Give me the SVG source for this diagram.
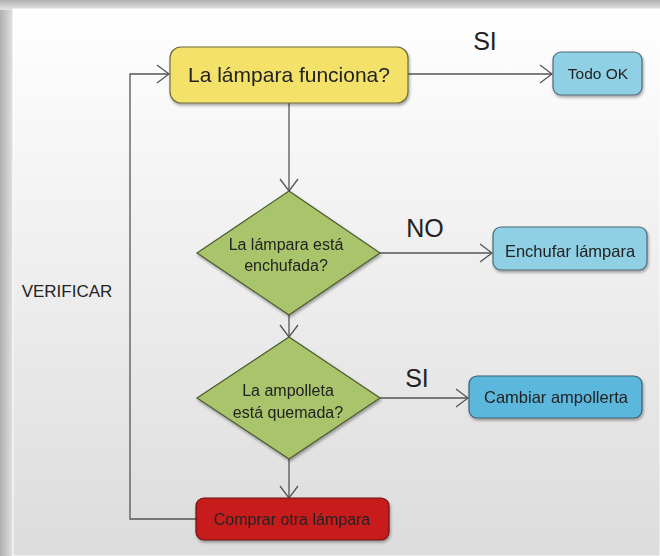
<svg xmlns="http://www.w3.org/2000/svg" width="660" height="556" viewBox="0 0 660 556">
  <defs>
    <linearGradient id="panelFill" x1="0" y1="0" x2="0" y2="1">
      <stop offset="0" stop-color="#ffffff"/>
      <stop offset="1" stop-color="#dcdcdc"/>
    </linearGradient>
    <linearGradient id="shadeLeft" x1="0" y1="0" x2="1" y2="0">
      <stop offset="0" stop-color="#b0b0b0"/>
      <stop offset="1" stop-color="#e6e6e6"/>
    </linearGradient>
    <linearGradient id="shadeTop" x1="0" y1="0" x2="0" y2="1">
      <stop offset="0" stop-color="#b0b0b0"/>
      <stop offset="1" stop-color="#e6e6e6"/>
    </linearGradient>
    <filter id="drop" x="-10%" y="-10%" width="130%" height="140%">
      <feGaussianBlur in="SourceAlpha" stdDeviation="1.5"/>
      <feOffset dx="1" dy="2" result="b"/>
      <feComponentTransfer><feFuncA type="linear" slope="0.35"/></feComponentTransfer>
      <feMerge><feMergeNode/><feMergeNode in="SourceGraphic"/></feMerge>
    </filter>
    <marker id="chev" viewBox="0 0 14 20" refX="13" refY="10" markerWidth="14" markerHeight="20" markerUnits="userSpaceOnUse" orient="auto">
      <path d="M1,1 L13,10 L1,19" fill="none" stroke="#555" stroke-width="1.3"/>
    </marker>
    <style>
      .lbl { font-family: "Liberation Sans", Arial, sans-serif; text-anchor: middle; fill: #222; }
      .big { font-size: 25px; }
      .edge { fill: none; stroke: #555; stroke-width: 1.3; }
      .yellow { fill: #f3e16a; stroke: #6e6a40; stroke-width: 1.2; }
      .blue { fill: #8fd0e4; stroke: #4f6876; stroke-width: 1.2; }
      .blue2 { fill: #5cb7dc; stroke: #3e5e70; stroke-width: 1.2; }
      .red { fill: #c81f1f; stroke: #6a1414; stroke-width: 1.2; }
      .green { fill: #a9c46a; stroke: #4d5a32; stroke-width: 1.2; }
    </style>
  </defs>

  <!-- page backdrop with soft edge shading -->
  <rect x="0" y="0" width="660" height="556" fill="#d8d8d8"/>
  <rect x="0" y="0" width="14" height="556" fill="url(#shadeLeft)"/>
  <rect x="0" y="0" width="660" height="10" fill="url(#shadeTop)"/>
  <rect x="13" y="9" width="647" height="547" fill="url(#panelFill)" stroke="#ffffff" stroke-width="1"/>

  <!-- connectors -->
  <g id="connectors">
    <path class="edge" d="M408,74 L552,74" marker-end="url(#chev)"/>
    <path class="edge" d="M289,103 L289,191" marker-end="url(#chev)"/>
    <path class="edge" d="M380,253 L492,253" marker-end="url(#chev)"/>
    <path class="edge" d="M289,315 L289,337" marker-end="url(#chev)"/>
    <path class="edge" d="M380,398 L468,398" marker-end="url(#chev)"/>
    <path class="edge" d="M289,459 L289,498" marker-end="url(#chev)"/>
    <path class="edge" d="M196,519 L130,519 L130,74 L169,74" marker-end="url(#chev)"/>
    <text class="lbl big" x="485" y="50">SI</text>
    <text class="lbl big" x="425" y="237">NO</text>
    <text class="lbl big" x="417" y="387">SI</text>
    <text class="lbl" x="67" y="297" font-size="17">VERIFICAR</text>
  </g>

  <g id="n-funciona" filter="url(#drop)">
    <rect class="yellow" x="170" y="47" width="238" height="56" rx="11"/>
    <text class="lbl" x="289" y="82" font-size="21">La lámpara funciona?</text>
  </g>

  <g id="n-todo-ok" filter="url(#drop)">
    <rect class="blue" x="553" y="52" width="89" height="43" rx="8"/>
    <text class="lbl" x="598" y="79" font-size="15.5" fill="#2a3a44">Todo OK</text>
  </g>

  <g id="n-enchufada" filter="url(#drop)">
    <polygon class="green" points="289,191 380,253 289,315 197,253"/>
    <text class="lbl" x="286" y="250" font-size="16">La lámpara está</text>
    <text class="lbl" x="286" y="271" font-size="16">enchufada?</text>
  </g>

  <g id="n-enchufar" filter="url(#drop)">
    <rect class="blue" x="493" y="227" width="154" height="43" rx="8"/>
    <text class="lbl" x="570" y="257" font-size="16.5">Enchufar lámpara</text>
  </g>

  <g id="n-quemada" filter="url(#drop)">
    <polygon class="green" points="289,337 380,398 289,459 197,398"/>
    <text class="lbl" x="288" y="396" font-size="16">La ampolleta</text>
    <text class="lbl" x="288" y="418" font-size="16">está quemada?</text>
  </g>

  <g id="n-cambiar" filter="url(#drop)">
    <rect class="blue2" x="469" y="376" width="173" height="42" rx="8"/>
    <text class="lbl" x="556" y="403" font-size="16.5">Cambiar ampollerta</text>
  </g>

  <g id="n-comprar" filter="url(#drop)">
    <rect class="red" x="196" y="498" width="193" height="42" rx="8"/>
    <text class="lbl" x="292" y="525" font-size="16" fill="#3a0808">Comprar otra lámpara</text>
  </g>
</svg>
